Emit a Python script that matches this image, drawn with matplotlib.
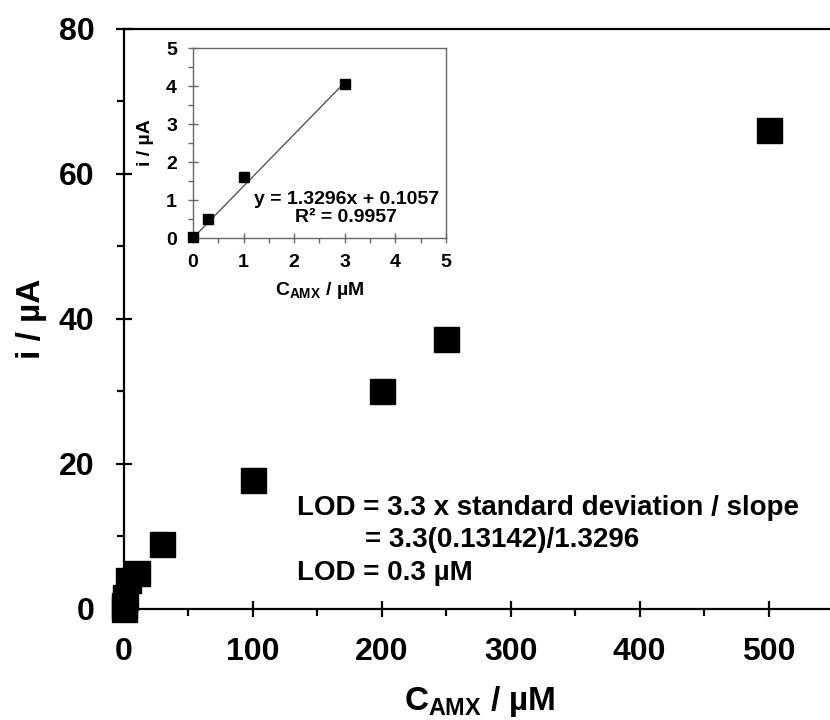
import matplotlib
matplotlib.use("Agg")
import matplotlib.pyplot as plt
from matplotlib.ticker import MultipleLocator

plt.rcParams['font.family'] = ['Liberation Sans', 'DejaVu Sans']
plt.rcParams['font.weight'] = 'bold'
plt.rcParams['axes.labelweight'] = 'bold'
plt.rcParams['mathtext.fontset'] = 'custom'
plt.rcParams['mathtext.rm'] = 'Liberation Sans:bold'
plt.rcParams['mathtext.it'] = 'Liberation Sans:bold'
plt.rcParams['mathtext.bf'] = 'Liberation Sans:bold'

# main calibration data
conc = [0, 0.3, 1, 3, 10, 30, 100, 200, 250, 500]
current = [0.02, 0.5, 1.6, 4.05, 4.9, 9.0, 17.8, 30.1, 37.2, 66.0]

# inset (low range)
conc_low = [0, 0.3, 1, 3]
current_low = [0.02, 0.5, 1.6, 4.05]
slope = 1.3296
intercept = 0.1057

main_xticks = [0, 100, 200, 300, 400, 500]
main_yticks = [0, 20, 40, 60, 80]
inset_ticks = [0, 1, 2, 3, 4, 5]

fig = plt.figure(figsize=(8.3, 7.2), dpi=100)

# main axes (right part is cut off by the figure edge, like the original)
ax = fig.add_axes([0.149, 0.1542, 0.9325, 0.8056])
ax.plot(conc, current, 's', color='black', markersize=18, clip_on=False, zorder=5)
ax.set_xlim(0, 600)
ax.set_ylim(0, 80)
ax.set_xticks(main_xticks)
ax.set_yticks(main_yticks)
ax.xaxis.set_minor_locator(MultipleLocator(50))
ax.yaxis.set_minor_locator(MultipleLocator(10))
for s in ax.spines.values():
    s.set_linewidth(1.6)
ax.tick_params(which='major', direction='inout', length=12, width=1.6, labelsize=23)
ax.tick_params(which='minor', direction='out', length=5, width=1.6)
ax.tick_params(axis='x', which='major', pad=14)
ax.tick_params(axis='y', which='major', pad=15)
ax.set_xlabel(r'$C_{AMX}$ / µM', fontsize=24)
ax.set_ylabel('i / µA', fontsize=24)
ax.xaxis.set_label_coords(0.46, -0.13)
ax.yaxis.set_label_coords(-0.099, 0.5)

fig.text(297 / 830, 1 - 515 / 720, 'LOD = 3.3 x standard deviation / slope',
         fontsize=20, ha='left', va='baseline')
fig.text(365 / 830, 1 - 547 / 720, '= 3.3(0.13142)/1.3296',
         fontsize=20, ha='left', va='baseline')
fig.text(297 / 830, 1 - 580 / 720, 'LOD = 0.3 µM',
         fontsize=20, ha='left', va='baseline')

# inset
ins = fig.add_axes([0.2325, 0.6694, 0.3048, 0.2639])
fit_x = [0, 3]
fit_y = [0.0, intercept + slope * 3]
ins.plot(fit_x, fit_y, color='#555555', linewidth=1.0)
ins.plot(conc_low, current_low, 's', color='black', markersize=6.5, clip_on=False, zorder=5)
ins.set_xlim(0, 5)
ins.set_ylim(0, 5)
ins.set_xticks(inset_ticks)
ins.set_yticks(inset_ticks)
ins.xaxis.set_minor_locator(MultipleLocator(0.5))
ins.yaxis.set_minor_locator(MultipleLocator(0.5))
for s in ins.spines.values():
    s.set_linewidth(1.0)
    s.set_color('#666666')
ins.tick_params(which='major', direction='inout', length=7, width=1.0,
                color='#666666', labelsize=14)
ins.tick_params(which='minor', direction='out', length=3.5, width=1.0, color='#666666')
ins.tick_params(axis='x', which='major', pad=8)
ins.tick_params(axis='y', which='major', pad=8)
ins.set_xlabel(r'$C_{AMX}$ / µM', fontsize=14)
ins.set_ylabel('i / µA', fontsize=14)
ins.xaxis.set_label_coords(0.5, -0.22)
ins.yaxis.set_label_coords(-0.154, 0.5)
ins.text(3.03, 0.42, 'y = 1.3296x + 0.1057\nR² = 0.9957', fontsize=14,
         ha='center', va='baseline', linespacing=1.1)

fig.savefig('out.png', dpi=100)
